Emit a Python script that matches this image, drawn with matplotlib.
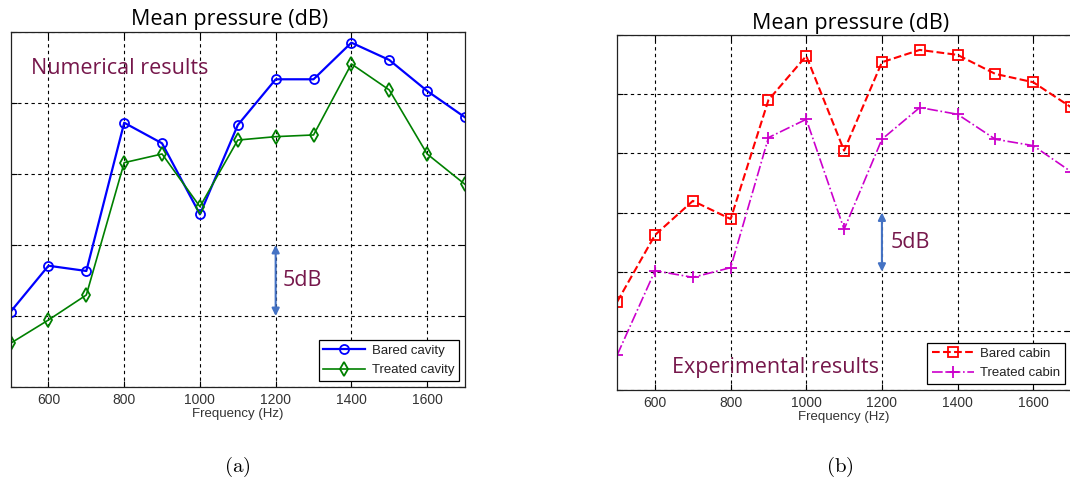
import matplotlib
matplotlib.use("Agg")
import matplotlib.pyplot as plt

plt.rcParams['mathtext.fontset'] = 'cm'

freq = [500, 600, 700, 800, 900, 1000, 1100, 1200, 1300, 1400, 1500, 1600, 1700]
bared_cavity = [5.3, 8.54, 8.17, 18.61, 17.16, 12.16, 18.45, 21.67, 21.67, 24.25, 23.03, 20.85, 18.99]
treated_cavity = [3.08, 4.72, 6.48, 15.8, 16.41, 12.7, 17.39, 17.63, 17.75, 22.75, 20.92, 16.41, 14.27]
bared_cabin = [7.46, 13.1, 15.98, 14.45, 24.51, 28.23, 20.23, 27.7, 28.74, 28.32, 26.71, 26.01, 23.9]
treated_cabin = [2.96, 10.08, 9.52, 10.34, 21.33, 22.88, 13.58, 21.19, 23.87, 23.3, 21.19, 20.65, 18.45]
xticks = [600, 800, 1000, 1200, 1400, 1600]

W, H = 1070, 487
fig = plt.figure(figsize=(W / 100, H / 100), dpi=100)

maroon = '#76174B'
arrow_col = '#4472C4'
tick_font = ['Liberation Sans', 'DejaVu Sans']
cal_font = ['Open Sans', 'DejaVu Sans']
big = 15.5

def style_axes(ax, ymax):
    ax.set_xlim(500, 1700)
    ax.set_ylim(0, ymax)
    ax.set_xticks(xticks)
    ax.set_yticks(range(0, ymax + 1, 5))
    ax.set_yticklabels([])
    ax.tick_params(direction='in', length=4, top=True, right=True, labelsize=10,
                   labelcolor='#333333', width=0.8, pad=4)
    for lab in ax.get_xticklabels():
        lab.set_family(tick_font)
    ax.grid(True, color='black', linestyle=(0, (3, 3)), linewidth=0.8)
    for s in ax.spines.values():
        s.set_linewidth(0.9)
        s.set_color('#222222')
    ax.set_xlabel('Frequency (Hz)', fontsize=9.5, family=tick_font, color='#333333', labelpad=1)

def add_legend(ax):
    leg = ax.legend(loc='lower right', prop={'family': tick_font, 'size': 9.5},
                    fancybox=False, edgecolor='black', framealpha=1, borderaxespad=0.45,
                    handlelength=3.2, borderpad=0.35, labelspacing=0.55, handletextpad=0.5)
    leg.get_frame().set_linewidth(0.9)
    for t in leg.get_texts():
        t.set_color('#222222')

def add_arrow(ax, x, y0, y1):
    ax.annotate('', xy=(x, y1), xytext=(x, y0),
                arrowprops=dict(arrowstyle='<|-|>', color=arrow_col, lw=1.5,
                                mutation_scale=11, shrinkA=0, shrinkB=0))

# Left panel
ax1 = fig.add_axes([10.6 / W, 1 - 387 / H, (465 - 10.6) / W, 355 / H])
ax1.plot(freq, bared_cavity, color='#0000FF', lw=1.6, marker='o', ms=6.5,
         mfc='none', mew=1.3, label='Bared cavity')
ax1.plot(freq, treated_cavity, color='#008000', lw=1.2, marker='d', ms=7,
         mfc='none', mew=1.3, label='Treated cavity')
style_axes(ax1, 25)
add_legend(ax1)
add_arrow(ax1, 1200, 5, 10)
ax1.text(1218, 7.5, '5dB', fontsize=big, color=maroon, family=cal_font, va='center', ha='left')
ax1.text(553, 22.4, 'Numerical results', fontsize=big, color=maroon, family=cal_font,
         va='center', ha='left')

# Right panel
ax2 = fig.add_axes([617.2 / W, 1 - 390 / H, (1071 - 617.2) / W, 355 / H])
ax2.plot(freq, bared_cabin, color='#FF0000', lw=1.5, ls='--', marker='s', ms=7,
         mfc='none', mew=1.3, label='Bared cabin')
ax2.plot(freq, treated_cabin, color='#CC00CC', lw=1.2, ls='-.', marker='+', ms=8,
         mew=1.3, label='Treated cabin')
style_axes(ax2, 30)
add_legend(ax2)
add_arrow(ax2, 1200, 10, 15)
ax2.text(1222, 12.5, '5dB', fontsize=big, color=maroon, family=cal_font, va='center', ha='left')
ax2.text(645, 1.9, 'Experimental results', fontsize=big, color=maroon, family=cal_font,
         va='center', ha='left')

# Titles
fig.text(230 / W, 1 - 19 / H, 'Mean pressure (dB)', fontsize=big, family=cal_font,
         ha='center', va='center', color='black')
fig.text(851 / W, 1 - 23 / H, 'Mean pressure (dB)', fontsize=big, family=cal_font,
         ha='center', va='center', color='black')

# Sub-captions
fig.text(237 / W, 1 - 467 / H, r'$\mathrm{(a)}$', fontsize=15, ha='center', va='center')
fig.text(840 / W, 1 - 467 / H, r'$\mathrm{(b)}$', fontsize=15, ha='center', va='center')

fig.savefig('out.png', dpi=100)
